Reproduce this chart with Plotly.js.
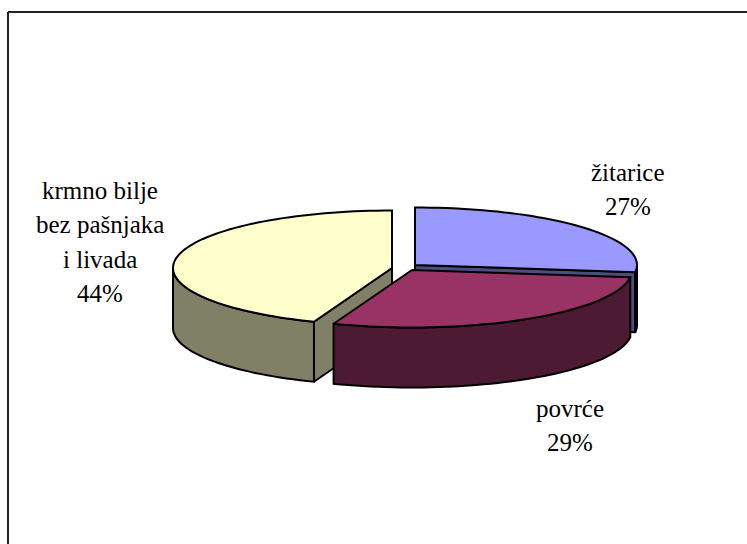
<!DOCTYPE html>
<html>
<head>
<meta charset="utf-8">
<script src="https://cdn.plot.ly/plotly-3.0.1.min.js"></script>
<style>html,body{margin:0;padding:0;background:#fff}#c{width:747px;height:544px}</style>
</head>
<body>
<div id="c"></div>
<script>
const categories = ["žitarice", "povrće", "krmno bilje bez pašnjaka i livada"];
const values = [27, 28.8, 44.2];
const labelLines = [["žitarice"], ["povrće"], ["krmno bilje", "bez pašnjaka", "i livada"]];
const topColors = ["#9999FF", "#993366", "#FFFFCC"];
const sideColors = ["#4D4D80", "#4D1A33", "#808066"];
const centersX = [415, 412, 392];
const centersY = [265, 270, 268];
const radiiX = [222, 220, 219];
const labelX = [628, 570, 100];
const labelTopY = [172, 408, 190];
const labelStep = 34.5;
const RY = 57.5, DEPTH = 60;

const total = values.reduce((a, b) => a + b, 0);
const pt = (i, deg, dz) => {
  const r = deg * Math.PI / 180;
  return [centersX[i] + radiiX[i] * Math.sin(r), centersY[i] - RY * Math.cos(r) + (dz || 0)];
};
const arc = (i, a, b, dz) => {
  const out = [], n = Math.max(2, Math.ceil(Math.abs(b - a) / 2));
  for (let k = 0; k <= n; k++) out.push(pt(i, a + (b - a) * k / n, dz));
  return out;
};
const poly = (pts, fill) => ({
  type: "scatter", mode: "lines", x: pts.map(p => p[0]), y: pts.map(p => p[1]),
  fill: "toself", fillcolor: fill, line: {color: "#000", width: 2, simplify: false},
  hoverinfo: "skip", showlegend: false
});

let acc = 0;
const slices = values.map(v => { const s = acc; acc += v; return [s / total * 360, acc / total * 360]; });

function sliceTraces(i) {
  const [a, b] = slices[i], c = [centersX[i], centersY[i]], t = [];
  const cd = [c[0], c[1] + DEPTH];
  // flat cut faces that turn towards the viewer
  if (a > 180 && a < 360) {
    const p = pt(i, a);
    t.push(poly([c, p, [p[0], p[1] + DEPTH], cd, c], sideColors[i]));
  }
  if (b > 0 && b < 180) {
    const p = pt(i, b);
    t.push(poly([c, p, [p[0], p[1] + DEPTH], cd, c], sideColors[i]));
  }
  // outer wall: the part of the rim between 90 and 270 degrees
  const w1 = Math.max(a, 90), w2 = Math.min(b, 270);
  if (w2 > w1) {
    const up = arc(i, w1, w2, 0), lo = arc(i, w2, w1, DEPTH);
    t.push(poly(up.concat(lo, [up[0]]), sideColors[i]));
  }
  const rim = arc(i, a, b, 0);
  t.push(poly([c].concat(rim, [c]), topColors[i]));
  return t;
}

// back to front: yellow, blue, maroon
const traces = [].concat(sliceTraces(2), sliceTraces(0), sliceTraces(1));

const annotations = [];
values.forEach((v, i) => {
  const lines = labelLines[i].concat([Math.round(v / total * 100) + "%"]);
  lines.forEach((txt, k) => annotations.push({
    x: labelX[i], y: labelTopY[i] + k * labelStep, xref: "x", yref: "y",
    text: txt, showarrow: false, xanchor: "center", yanchor: "middle",
    font: {family: "Liberation Serif, Times New Roman, serif", size: 25, color: "#000"}
  }));
});

Plotly.newPlot("c", traces, {
  width: 747, height: 544, margin: {l: 0, r: 0, t: 0, b: 0},
  paper_bgcolor: "#fff", plot_bgcolor: "#fff", showlegend: false,
  xaxis: {range: [0, 747], visible: false, fixedrange: true},
  yaxis: {range: [544, 0], visible: false, fixedrange: true},
  annotations,
  shapes: [
    {type: "line", xref: "paper", yref: "paper", x0: 8 / 747, x1: 1, y0: 1 - 12 / 544, y1: 1 - 12 / 544, line: {color: "#222", width: 2}},
    {type: "line", xref: "paper", yref: "paper", x0: 8 / 747, x1: 8 / 747, y0: 0, y1: 1 - 12 / 544, line: {color: "#222", width: 2}}
  ]
}, {displayModeBar: false, staticPlot: true});
</script>
</body>
</html>
